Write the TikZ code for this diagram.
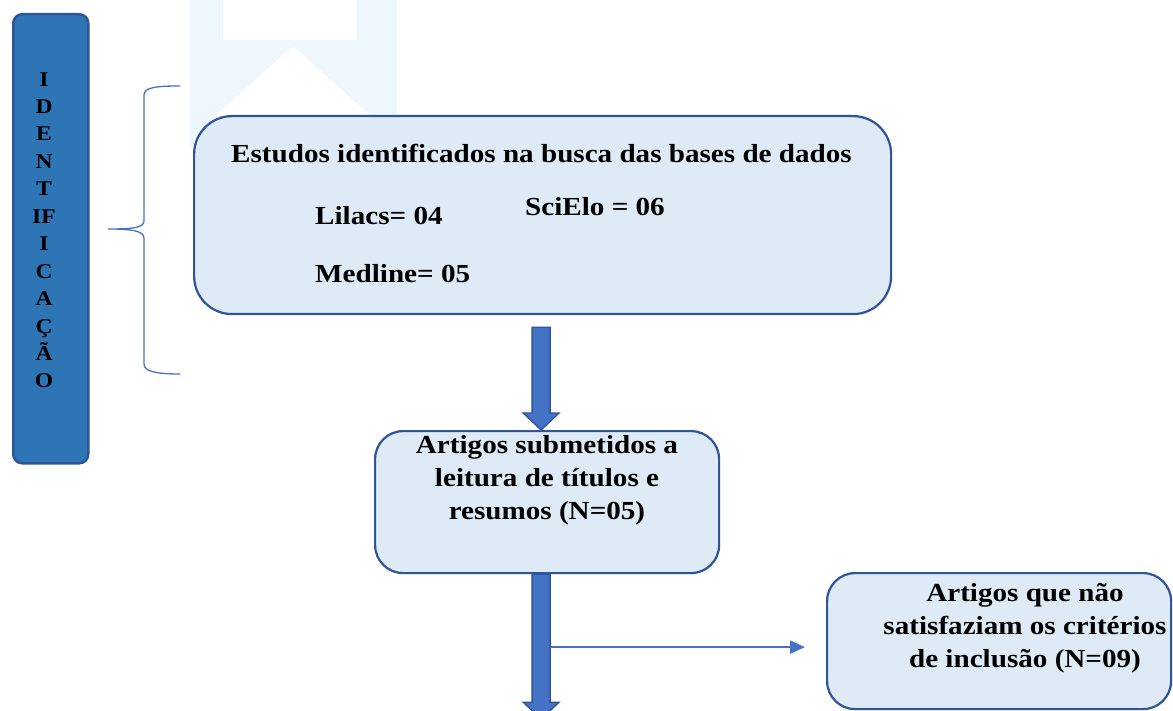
\documentclass[tikz,border=0pt]{standalone}
\usepackage{fontspec}
\setmainfont[FakeStretch=1.12]{Liberation Serif}
\usetikzlibrary{calc,arrows.meta}
\definecolor{dkblue}{HTML}{2F5597}
\definecolor{ltfill}{HTML}{DEEBF7}
\definecolor{midblue}{HTML}{4472C4}
\definecolor{tabblue}{HTML}{2E75B6}
\definecolor{wmark}{HTML}{EDF7FD}
\tikzset{
  flowbox/.style={draw=dkblue, line width=2.2pt, fill=ltfill, anchor=north west, inner sep=0pt},
  txt/.style={font=\fontsize{26}{33}\selectfont\bfseries, inner sep=0pt, align=center},
  tabbox/.style={draw=dkblue, line width=2.5pt, fill=tabblue, rounded corners=9pt, anchor=north west, inner sep=0pt},
  tabtxt/.style={font=\fontsize{21}{27.45}\selectfont\bfseries, inner sep=0pt, align=center},
  bigarrow/.style={fill=midblue, draw=dkblue, line width=1.3pt, line join=miter},
  thinarrow/.style={draw=midblue, line width=2pt, -{Triangle[length=15pt,width=13pt]}},
  bracestyle/.style={draw=midblue, line width=1.3pt}
}
\begin{document}
\begin{tikzpicture}[x=1pt,y=-1pt]
\useasboundingbox[fill=white] (0,0) rectangle (1173,711);
\clip (0,0) rectangle (1173,711);
% faint watermark
\fill[wmark] (190,0) rectangle (397,146);
\fill[white] (223,0) -- (357,0) -- (357,40) -- (223,40) -- cycle;
\fill[white] (293,46) -- (371,116) -- (215,116) -- cycle;
% left tab
\node[tabbox, minimum width=75pt, minimum height=449pt] (tab) at (12,13) {};
\node[tabtxt, anchor=base] (tabtext) at (44,388) {I\\D\\E\\N\\T\\IF\\I\\C\\A\\Ç\\Ã\\O};
% brace
\draw[bracestyle] (180,86) .. controls (158,86) and (144,87) .. (144,95) -- (144,221)
  .. controls (144,228) and (132,229) .. (108,229)
  .. controls (132,229) and (144,231) .. (144,238) -- (144,364)
  .. controls (144,372) and (158,374) .. (180,374);
% main box
\node[flowbox, rounded corners=38pt, minimum width=697pt, minimum height=198pt] (main) at (193,115) {};
\node[txt, anchor=base] (title) at (541.5,163) {Estudos identificados na busca das bases de dados};
\node[txt, anchor=base west] (lil) at (315,225) {Lilacs= 04};
\node[txt, anchor=base west] (sci) at (525,216) {SciElo = 06};
\node[txt, anchor=base west] (med) at (315,283) {Medline= 05};
% second box
\node[flowbox, rounded corners=28pt, minimum width=344pt, minimum height=142pt] (box2) at (374,430) {};
\node[txt, anchor=base] (box2t) at (547,519) {Artigos submetidos a\\leitura de títulos e\\resumos (N=05)};
% third box
\node[flowbox, rounded corners=28pt, minimum width=344pt, minimum height=136pt] (box3) at (826,572) {};
\node[txt, anchor=base] (box3t) at (1025,667) {Artigos que não\\satisfaziam os critérios\\de inclusão (N=09)};
% arrows
\coordinate (a1s) at ($(main.south)+(-1.5,12)$);
\filldraw[bigarrow] let \p1=(a1s), \p2=(a1s |- box2.north) in
  (\x1-9pt,\y1) -- (\x1+9pt,\y1) -- (\x1+9pt,\y2+17pt) -- (\x1+18pt,\y2+17pt)
  -- (\x1,\y2) -- (\x1-18pt,\y2+17pt) -- (\x1-9pt,\y2+17pt) -- cycle;
\coordinate (a2end) at ($(a1s |- box2.south)+(0,145)$);
\filldraw[bigarrow] let \p1=(a1s |- box2.south), \p2=(a2end) in
  (\x1-9pt,\y1) -- (\x1+9pt,\y1) -- (\x1+9pt,\y2+17pt) -- (\x1+18pt,\y2+17pt)
  -- (\x1,\y2) -- (\x1-18pt,\y2+17pt) -- (\x1-9pt,\y2+17pt) -- cycle;
\coordinate (tstart) at ($(a1s |- box3.west)+(9.5,6)$);
\coordinate (tend) at ($(box3.west)+(-21,6)$);
\draw[thinarrow] (tstart) -- (tend);
\end{tikzpicture}
\end{document}
